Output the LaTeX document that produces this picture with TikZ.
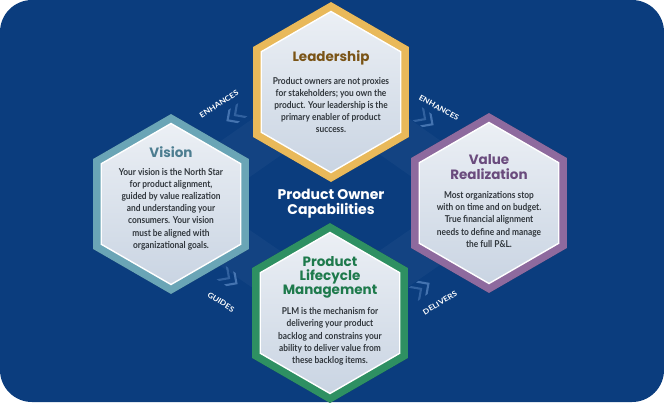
\documentclass[tikz,border=0pt]{standalone}
\usepackage{fontspec}
\newfontfamily\titlef{Poppins}
\newfontfamily\bodyf[FakeStretch=0.88]{Lato}
\newfontfamily\labf[FakeStretch=1.12]{Lato}
\definecolor{bgblue}{HTML}{0B3D7E}
\definecolor{goldc}{HTML}{E9B95A}
\definecolor{tealc}{HTML}{6AA5B6}
\definecolor{purpc}{HTML}{8E6A9E}
\definecolor{greenc}{HTML}{2E9062}
\definecolor{goldt}{HTML}{7A5416}
\definecolor{tealt}{HTML}{4C7D90}
\definecolor{purpt}{HTML}{6A4B7D}
\definecolor{greent}{HTML}{1E7A4C}
\definecolor{bodyc}{HTML}{30363C}
\definecolor{chevc}{HTML}{6A98D2}
\newcommand\hexat[2]{(#1) +(90:#2) -- +(150:#2) -- +(210:#2) -- +(270:#2) -- +(330:#2) -- +(30:#2) -- cycle}
\newcommand\chevs[2]{\begin{scope}[shift={(#1)},rotate=#2]
\fill[chevc,opacity=0.6] (-9,-8)--(-6,-8)--(2,0)--(-6,8)--(-9,8)--(-1,0)--cycle;
\fill[chevc,opacity=0.4] (-18,-8)--(-15,-8)--(-7,0)--(-15,8)--(-18,8)--(-10,0)--cycle;
\end{scope}}
\begin{document}
\begin{tikzpicture}[x=1pt,y=-1pt,
  shadowhex/.style={fill=black,opacity=0.28},
  innerhex/.style={draw=white,line width=1.4pt,top color=white!92!bgblue,bottom color=white!78!bgblue},
  titletext/.style={align=center,font=\titlef\bfseries\fontsize{13.5}{14.2}\selectfont},
  bodytext/.style={align=center,text=bodyc,font=\bodyf\bfseries\fontsize{9.5}{12.2}\selectfont},
  conlab/.style={text=white,font=\labf\bfseries\fontsize{7.4}{8}\selectfont},
  ribbon/.style={line width=46pt,draw=white,opacity=0.035}]
\useasboundingbox (0,0) rectangle (664,402);
\fill[bgblue,rounded corners=32pt] (0,0) rectangle (664,402);
% hex centres
\coordinate (lead) at (331,92);
\coordinate (vis) at (171,204);
\coordinate (val) at (489,203);
\coordinate (plm) at (330,313);
% ribbons (connectors)
\draw[ribbon] (lead) -- (vis);
\draw[ribbon] (lead) -- (val);
\draw[ribbon] (vis) -- (plm);
\draw[ribbon] (plm) -- (val);
% shadows
\foreach \c in {lead,vis,val,plm}{
  \fill[shadowhex,shift={(7,6)}] \hexat{\c}{90};
}
% outer hexes
\fill[goldc] \hexat{lead}{90};
\fill[tealc] \hexat{vis}{90};
\fill[purpc] \hexat{val}{90};
\fill[greenc] \hexat{plm}{90};
% inner hexes
\foreach \c in {lead,vis,val,plm}{
  \path[innerhex] \hexat{\c}{80.5};
}
% texts
\node[titletext,text=goldt] (leadT) at (331,58) {Leadership};
\node[bodytext] (leadB) at (331,105) {Product owners are not proxies\\for stakeholders; you own the\\product. Your leadership is the\\primary enabler of product\\success.};
\node[titletext,text=tealt] (visT) at (171,152) {Vision};
\node[bodytext] (visB) at (171,209) {Your vision is the North Star\\for product alignment,\\guided by value realization\\and understanding your\\consumers. Your vision\\must be aligned with\\organizational goals.};
\node[titletext,text=purpt] (valT) at (489,167) {Value\\Realization};
\node[bodytext] (valB) at (489,219.5) {Most organizations stop\\with on time and on budget.\\True financial alignment\\needs to define and manage\\the full P\&L.};
\node[titletext,text=greent] (plmT) at (330,277.5) {Product\\Lifecycle\\Management};
\node[bodytext] (plmB) at (330,336.5) {PLM is the mechanism for\\delivering your product\\backlog and constrains your\\ability to deliver value from\\these backlog items.};
\node[align=center,text=white,font=\titlef\bfseries\fontsize{14}{14.5}\selectfont] (center) at (331,203.5) {Product Owner\\Capabilities};
% connector chevrons and labels
\coordinate (c1) at (228,120);
\coordinate (c2) at (432,124);
\coordinate (c3) at (236,283);
\coordinate (c4) at (428,284);
\chevs{c1}{215}
\chevs{c2}{-35}
\chevs{c3}{-35}
\chevs{c4}{35}
\node[conlab,rotate=32] (l1) at (219,104) {ENHANCES};
\node[conlab,rotate=-29] (l2) at (439,108) {ENHANCES};
\node[conlab,rotate=-33] (l3) at (221,302) {GUIDES};
\node[conlab,rotate=31] (l4) at (440,303) {DELIVERS};
\end{tikzpicture}
\end{document}
